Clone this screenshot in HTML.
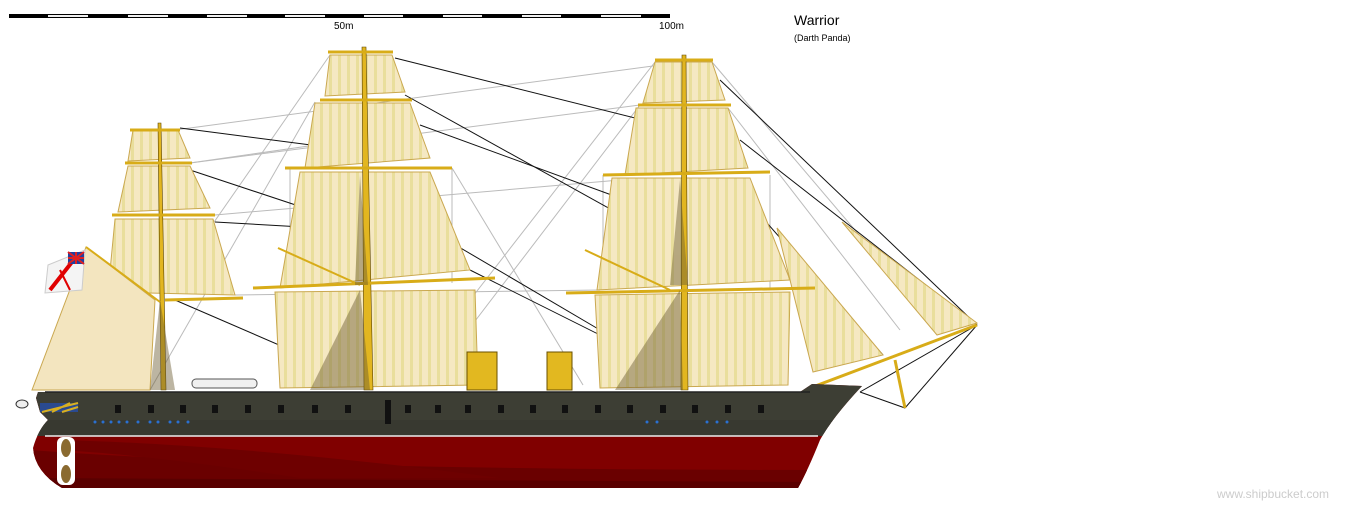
<!DOCTYPE html>
<html><head><meta charset="utf-8"><style>
html,body{margin:0;padding:0;background:#fff;}
svg{display:block;}
text{font-family:"Liberation Sans",sans-serif;}
</style></head><body>
<svg width="1370" height="505" viewBox="0 0 1370 505" xmlns="http://www.w3.org/2000/svg">
<defs>
<pattern id="st" width="9" height="9" patternUnits="userSpaceOnUse">
<rect width="9" height="9" fill="#f5e8c2"/><rect x="5" width="3" height="9" fill="#e9de9c"/>
</pattern>
<clipPath id="top"><rect x="0" y="0" width="1370" height="436"/></clipPath>
<clipPath id="hc"><path d="M38 392 L800 392 L812 384 L862 386 Q832 418 820 440 Q808 470 798 488 L62 488 Q35 472 33 448 Q38 430 48 420 L40 412 L36 398 Z"/></clipPath>
</defs>
<!-- scale -->
<rect x="9" y="14" width="661" height="4" fill="#000"/>
<g fill="#f0f0f0">
<rect x="48" y="15" width="40" height="2"/><rect x="128" y="15" width="40" height="2"/>
<rect x="207" y="15" width="40" height="2"/><rect x="285" y="15" width="40" height="2"/>
<rect x="364" y="15" width="39" height="2"/><rect x="443" y="15" width="39" height="2"/>
<rect x="522" y="15" width="39" height="2"/><rect x="601" y="15" width="40" height="2"/>
</g>
<text x="334" y="29" font-size="10">50m</text>
<text x="659" y="29" font-size="10">100m</text>
<text x="794" y="25" font-size="14">Warrior</text>
<text x="794" y="41" font-size="9">(Darth Panda)</text>
<text x="1217" y="498" font-size="12" fill="#ccc">www.shipbucket.com</text>

<!-- rigging grey -->
<g stroke="#bbb" stroke-width="1" fill="none">
<line x1="175" y1="130" x2="683" y2="62"/><line x1="190" y1="163" x2="640" y2="105"/>
<line x1="215" y1="215" x2="620" y2="180"/><line x1="235" y1="295" x2="600" y2="290"/>
<line x1="330" y1="55" x2="160" y2="300"/><line x1="315" y1="102" x2="150" y2="390"/>
<line x1="452" y1="168" x2="583" y2="385"/><line x1="655" y1="62" x2="470" y2="300"/>
<line x1="640" y1="105" x2="430" y2="380"/><line x1="712" y1="62" x2="940" y2="330"/>
<line x1="728" y1="108" x2="900" y2="330"/><line x1="770" y1="175" x2="770" y2="290"/>
<line x1="603" y1="175" x2="603" y2="290"/><line x1="290" y1="168" x2="290" y2="283"/>
<line x1="452" y1="168" x2="452" y2="283"/><line x1="190" y1="163" x2="420" y2="130"/>
</g>
<!-- black stays -->
<g stroke="#111" stroke-width="1" fill="none">
<line x1="180" y1="128" x2="365" y2="152"/><line x1="190" y1="170" x2="365" y2="228"/>
<line x1="215" y1="222" x2="355" y2="230"/><line x1="175" y1="300" x2="360" y2="380"/>
<line x1="395" y1="58" x2="683" y2="130"/><line x1="405" y1="95" x2="675" y2="245"/>
<line x1="420" y1="125" x2="680" y2="220"/><line x1="430" y1="230" x2="600" y2="330"/>
<line x1="470" y1="270" x2="650" y2="360"/><line x1="720" y1="80" x2="977" y2="325"/>
<line x1="740" y1="140" x2="977" y2="325"/><line x1="760" y1="215" x2="883" y2="355"/>
<line x1="977" y1="325" x2="905" y2="408"/><line x1="905" y1="408" x2="860" y2="392"/>
<line x1="860" y1="392" x2="977" y2="325"/>
</g>

<!-- sails -->
<g fill="url(#st)" stroke="#caa850" stroke-width="1">
<polygon points="133,130 178,130 190,158 128,161"/>
<polygon points="128,166 190,166 210,208 118,212"/>
<polygon points="115,219 213,219 235,295 108,292"/>
<polygon points="330,55 392,55 405,92 325,96"/>
<polygon points="315,103 410,103 430,158 305,168"/>
<polygon points="300,172 430,172 470,270 280,288"/>
<polygon points="275,292 475,290 478,385 280,388"/>
<polygon points="655,62 712,62 725,100 643,103"/>
<polygon points="636,108 728,108 748,168 625,175"/>
<polygon points="612,178 750,178 790,280 597,290"/>
<polygon points="595,295 790,292 788,385 600,388"/>
<polygon points="777,228 883,355 813,372"/>
<polygon points="842,222 977,323 937,335"/>
</g>
<polygon points="86,247 155,300 150,390 32,390" fill="#f3e5bf" stroke="#caa850"/>
<!-- flag -->
<polygon points="48,265 85,250 82,290 45,293" fill="#f4f4f4" stroke="#ccc"/>
<line x1="50" y1="290" x2="72" y2="262" stroke="#e00000" stroke-width="4"/>
<line x1="60" y1="270" x2="70" y2="290" stroke="#e00000" stroke-width="2"/>
<rect x="68" y="252" width="16" height="12" fill="#2040a0"/>
<path d="M68 252 L84 264 M84 252 L68 264 M76 252 V264 M68 258 H84" stroke="#e02020" stroke-width="2"/>

<!-- masts -->
<g fill="#e2b620" stroke="#5a4400" stroke-width="0.6">
<polygon points="158,123 161,123 166,390 161,390"/>
<polygon points="362,47 366,47 373,390 364,390"/>
<polygon points="682,55 686,55 688,390 681,390"/>
</g>
<!-- yards -->
<g stroke="#d8ac18" stroke-width="3">
<line x1="130" y1="130" x2="180" y2="130"/><line x1="125" y1="163" x2="192" y2="163"/>
<line x1="112" y1="215" x2="215" y2="215"/><line x1="165" y1="300" x2="243" y2="298"/>
<line x1="328" y1="52" x2="393" y2="52"/><line x1="320" y1="100" x2="412" y2="100"/>
<line x1="285" y1="168" x2="452" y2="168"/><line x1="253" y1="288" x2="495" y2="278"/>
<line x1="655" y1="60" x2="713" y2="60"/><line x1="638" y1="105" x2="731" y2="105"/>
<line x1="603" y1="175" x2="770" y2="172"/><line x1="566" y1="293" x2="815" y2="288"/>
<line x1="810" y1="388" x2="977" y2="325"/><line x1="895" y1="360" x2="905" y2="408"/>
<line x1="86" y1="247" x2="160" y2="302" stroke-width="2"/>
<line x1="278" y1="248" x2="360" y2="285" stroke-width="2"/>
<line x1="585" y1="250" x2="670" y2="290" stroke-width="2"/>
</g>
<!-- shrouds/ratlines -->
<g fill="#6a5a30" opacity="0.45">
<polygon points="160,300 150,390 175,390"/>
<polygon points="360,290 310,390 370,390"/>
<polygon points="360,175 355,285 368,285"/>
<polygon points="680,290 615,390 683,390"/>
<polygon points="680,180 670,285 688,285"/>
</g>

<!-- funnels, boat -->
<rect x="467" y="352" width="30" height="38" fill="#e2b820" stroke="#6a5000"/>
<rect x="547" y="352" width="25" height="38" fill="#e2b820" stroke="#6a5000"/>
<rect x="192" y="379" width="65" height="9" rx="4" fill="#f0f0f0" stroke="#555"/>

<!-- hull -->
<g clip-path="url(#hc)">
<rect x="0" y="380" width="900" height="120" fill="#800000"/>
<path d="M30 450 Q300 470 820 470 L820 500 L30 500 Z" fill="#6a0000"/>
<path d="M30 478 L820 482 L820 500 L30 500 Z" fill="#5a0000"/>
<path d="M60 440 Q250 445 500 478 L300 478 Q150 455 60 450 Z" fill="#6e0000"/>
<rect x="0" y="380" width="900" height="56" fill="#3d3e34"/>
<rect x="0" y="420" width="900" height="16" fill="#383930"/>
</g>
<line x1="45" y1="436" x2="818" y2="436" stroke="#eee" stroke-width="1.5"/>
<line x1="45" y1="392" x2="810" y2="392" stroke="#222" stroke-width="1.5"/>
<rect x="40" y="403" width="38" height="9" fill="#2a4a90"/>
<path d="M42 412 L78 403 M52 412 L70 403 M62 412 L78 407" stroke="#d8b020" stroke-width="2"/>
<rect x="57" y="437" width="18" height="48" rx="6" fill="#fff"/>
<ellipse cx="66" cy="448" rx="5" ry="9" fill="#8a6a30"/><ellipse cx="66" cy="474" rx="5" ry="9" fill="#8a6a30"/>
<g fill="#111">
<rect x="115" y="405" width="6" height="8"/><rect x="148" y="405" width="6" height="8"/><rect x="180" y="405" width="6" height="8"/>
<rect x="212" y="405" width="6" height="8"/><rect x="245" y="405" width="6" height="8"/><rect x="278" y="405" width="6" height="8"/>
<rect x="312" y="405" width="6" height="8"/><rect x="345" y="405" width="6" height="8"/><rect x="405" y="405" width="6" height="8"/>
<rect x="435" y="405" width="6" height="8"/><rect x="465" y="405" width="6" height="8"/><rect x="498" y="405" width="6" height="8"/>
<rect x="530" y="405" width="6" height="8"/><rect x="562" y="405" width="6" height="8"/><rect x="595" y="405" width="6" height="8"/>
<rect x="627" y="405" width="6" height="8"/><rect x="660" y="405" width="6" height="8"/><rect x="692" y="405" width="6" height="8"/>
<rect x="725" y="405" width="6" height="8"/><rect x="758" y="405" width="6" height="8"/>
<rect x="385" y="400" width="6" height="24"/>
</g>
<g fill="#2a70d0">
<circle cx="95" cy="422" r="1.5"/><circle cx="103" cy="422" r="1.5"/><circle cx="111" cy="422" r="1.5"/><circle cx="119" cy="422" r="1.5"/>
<circle cx="127" cy="422" r="1.5"/><circle cx="138" cy="422" r="1.5"/><circle cx="150" cy="422" r="1.5"/><circle cx="158" cy="422" r="1.5"/>
<circle cx="170" cy="422" r="1.5"/><circle cx="178" cy="422" r="1.5"/><circle cx="188" cy="422" r="1.5"/>
<circle cx="647" cy="422" r="1.5"/><circle cx="657" cy="422" r="1.5"/><circle cx="707" cy="422" r="1.5"/><circle cx="717" cy="422" r="1.5"/><circle cx="727" cy="422" r="1.5"/>
</g>
<ellipse cx="22" cy="404" rx="6" ry="4" fill="#eee" stroke="#333"/>
</svg>
</body></html>
